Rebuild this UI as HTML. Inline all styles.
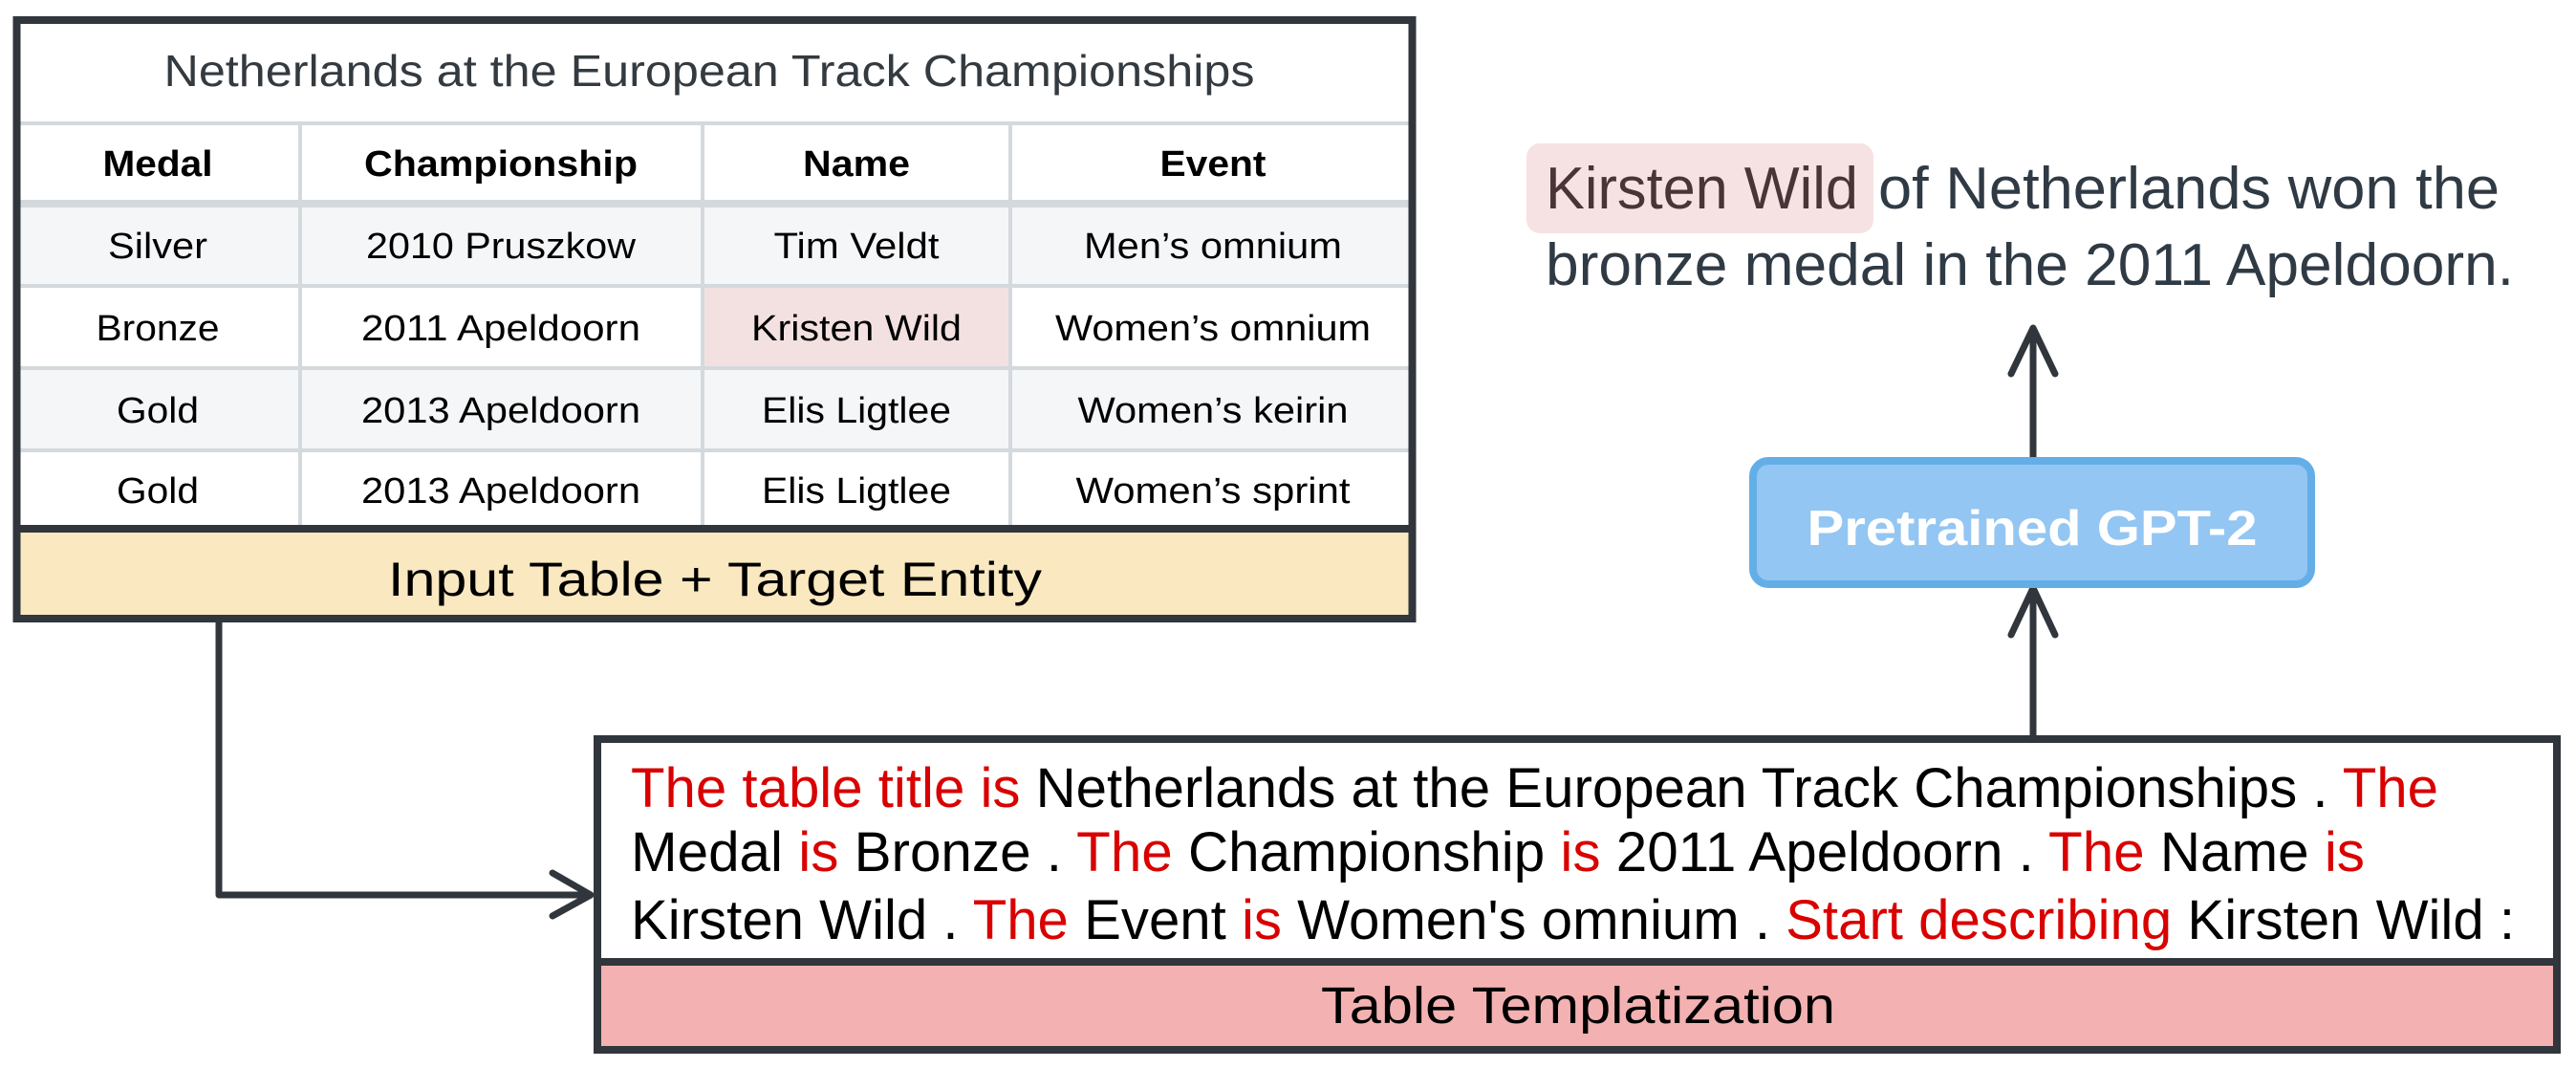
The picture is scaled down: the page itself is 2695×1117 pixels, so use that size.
<!DOCTYPE html>
<html><head><meta charset="utf-8"><style>html,body{margin:0;padding:0;background:#fff}svg{display:block}</style></head>
<body>
<svg width="2695" height="1117" viewBox="0 0 2695 1117" xmlns="http://www.w3.org/2000/svg" font-family="Liberation Sans, Arial, sans-serif">
<!-- Table -->
<rect x="14" y="17" width="1467" height="633" fill="#fff"/>
<rect x="18" y="213" width="1460" height="86" fill="#f5f6f8"/>
<rect x="18" y="385" width="1460" height="86" fill="#f5f6f8"/>
<rect x="735" y="299" width="322" height="86" fill="#f3e1e1"/>
<g stroke="#d3d9dd" stroke-width="4">
<line x1="18" y1="129" x2="1478" y2="129"/>
<line x1="18" y1="213" x2="1478" y2="213" stroke-width="8"/>
<line x1="18" y1="299" x2="1478" y2="299"/>
<line x1="18" y1="385" x2="1478" y2="385"/>
<line x1="18" y1="471" x2="1478" y2="471"/>
<line x1="314" y1="129" x2="314" y2="553"/>
<line x1="735" y1="129" x2="735" y2="553"/>
<line x1="1057" y1="129" x2="1057" y2="553"/>
</g>
<rect x="18" y="553" width="1460" height="94" fill="#f9e8c0"/>
<line x1="14" y1="553" x2="1481" y2="553" stroke="#30363c" stroke-width="8"/>
<rect x="17.5" y="21" width="1460" height="626" fill="none" stroke="#30363c" stroke-width="8"/>
<text x="742" y="90" font-size="46" fill="#333a40" text-anchor="middle" textLength="1141" lengthAdjust="spacingAndGlyphs">Netherlands at the European Track Championships</text>
<g font-size="38" fill="#000" text-anchor="middle">
<g font-weight="bold">
<text x="165" y="184" textLength="115" lengthAdjust="spacingAndGlyphs">Medal</text>
<text x="524" y="184" textLength="286" lengthAdjust="spacingAndGlyphs">Championship</text>
<text x="896" y="184" textLength="112" lengthAdjust="spacingAndGlyphs">Name</text>
<text x="1269" y="184" textLength="111" lengthAdjust="spacingAndGlyphs">Event</text>
</g>
<text x="165" y="270" textLength="104" lengthAdjust="spacingAndGlyphs">Silver</text>
<text x="524" y="270" textLength="282" lengthAdjust="spacingAndGlyphs">2010 Pruszkow</text>
<text x="896" y="270" textLength="173" lengthAdjust="spacingAndGlyphs">Tim Veldt</text>
<text x="1269" y="270" textLength="270" lengthAdjust="spacingAndGlyphs">Men’s omnium</text>
<text x="165" y="356" textLength="129" lengthAdjust="spacingAndGlyphs">Bronze</text>
<text x="524" y="356" textLength="292" lengthAdjust="spacingAndGlyphs">2011 Apeldoorn</text>
<text x="896" y="356" textLength="220" lengthAdjust="spacingAndGlyphs">Kristen Wild</text>
<text x="1269" y="356" textLength="330" lengthAdjust="spacingAndGlyphs">Women’s omnium</text>
<text x="165" y="442" textLength="86" lengthAdjust="spacingAndGlyphs">Gold</text>
<text x="524" y="442" textLength="292" lengthAdjust="spacingAndGlyphs">2013 Apeldoorn</text>
<text x="896" y="442" textLength="198" lengthAdjust="spacingAndGlyphs">Elis Ligtlee</text>
<text x="1269" y="442" textLength="283" lengthAdjust="spacingAndGlyphs">Women’s keirin</text>
<text x="165" y="526" textLength="86" lengthAdjust="spacingAndGlyphs">Gold</text>
<text x="524" y="526" textLength="292" lengthAdjust="spacingAndGlyphs">2013 Apeldoorn</text>
<text x="896" y="526" textLength="198" lengthAdjust="spacingAndGlyphs">Elis Ligtlee</text>
<text x="1269" y="526" textLength="287" lengthAdjust="spacingAndGlyphs">Women’s sprint</text>
</g>
<text x="748" y="623" font-size="50" fill="#000" text-anchor="middle" textLength="684" lengthAdjust="spacingAndGlyphs">Input Table + Target Entity</text>

<!-- connector left -->
<polyline points="229,650 229,936 616,936" fill="none" stroke="#30363c" stroke-width="7" stroke-linejoin="round"/>
<polyline points="578,913 618,936 578,958" fill="none" stroke="#30363c" stroke-width="7" stroke-linecap="round" stroke-linejoin="round"/>

<!-- bottom box -->
<rect x="624" y="773" width="2053" height="233" fill="#fff"/>
<rect x="624" y="1006" width="2053" height="90" fill="#f3b1b1"/>
<line x1="624" y1="1006" x2="2677" y2="1006" stroke="#30363c" stroke-width="8"/>
<rect x="625" y="773" width="2050" height="325" fill="none" stroke="#30363c" stroke-width="8"/>
<g font-size="58" fill="#000">
<text x="660" y="844" textLength="1891" lengthAdjust="spacingAndGlyphs"><tspan fill="#d90000">The table title is</tspan> Netherlands at the European Track Championships . <tspan fill="#d90000">The</tspan></text>
<text x="660" y="911" textLength="1814" lengthAdjust="spacingAndGlyphs">Medal <tspan fill="#d90000">is</tspan> Bronze . <tspan fill="#d90000">The</tspan> Championship <tspan fill="#d90000">is</tspan> 2011 Apeldoorn . <tspan fill="#d90000">The</tspan> Name <tspan fill="#d90000">is</tspan></text>
<text x="660" y="982" textLength="1971" lengthAdjust="spacingAndGlyphs">Kirsten Wild . <tspan fill="#d90000">The</tspan> Event <tspan fill="#d90000">is</tspan> Women's omnium . <tspan fill="#d90000">Start describing</tspan> Kirsten Wild :</text>
</g>
<text x="1651" y="1070" font-size="54" fill="#000" text-anchor="middle" textLength="538" lengthAdjust="spacingAndGlyphs">Table Templatization</text>

<!-- arrows right -->
<line x1="2127" y1="770" x2="2127" y2="620" stroke="#30363c" stroke-width="7"/>
<polyline points="2104,664 2127,615 2150,664" fill="none" stroke="#30363c" stroke-width="7" stroke-linecap="round" stroke-linejoin="round"/>
<line x1="2127" y1="478" x2="2127" y2="348" stroke="#30363c" stroke-width="7"/>
<polyline points="2104,391 2127,343 2150,391" fill="none" stroke="#30363c" stroke-width="7" stroke-linecap="round" stroke-linejoin="round"/>

<!-- GPT box -->
<rect x="1834" y="482" width="584" height="129" rx="16" fill="#93c6f2" stroke="#64aee8" stroke-width="8"/>
<text x="2126" y="570" font-size="52" font-weight="bold" fill="#fff" text-anchor="middle" textLength="471" lengthAdjust="spacingAndGlyphs">Pretrained GPT-2</text>

<!-- output sentence -->
<rect x="1597" y="150" width="363" height="94" rx="14" fill="#f6e2e2"/>
<text x="1617" y="218" font-size="62" fill="#4a3438" textLength="327" lengthAdjust="spacingAndGlyphs">Kirsten Wild</text>
<text x="1965" y="218" font-size="62" fill="#2f3a44" textLength="650" lengthAdjust="spacingAndGlyphs">of Netherlands won the</text>
<text x="1617" y="298" font-size="62" fill="#2f3a44" textLength="1013" lengthAdjust="spacingAndGlyphs">bronze medal in the 2011 Apeldoorn.</text>
</svg>
</body></html>
